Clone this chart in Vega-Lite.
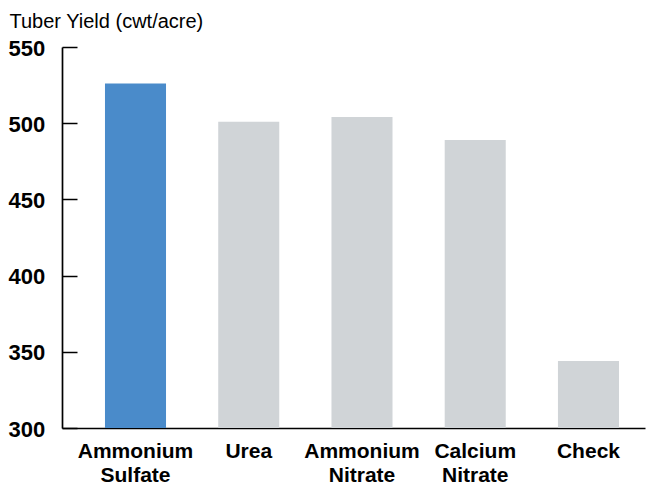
{
  "$schema": "https://vega.github.io/schema/vega-lite/v6.json",
  "autosize": {"type": "none"},
  "padding": {"left": 62, "top": 47, "right": 1, "bottom": 63},
  "width": 583,
  "height": 381,
  "background": "#ffffff",
  "config": {
    "view": {"stroke": null},
    "font": "Liberation Sans, sans-serif"
  },
  "data": {
    "values": [
      {"treatment": "Ammonium Sulfate", "yield": 526},
      {"treatment": "Urea", "yield": 501},
      {"treatment": "Ammonium Nitrate", "yield": 504},
      {"treatment": "Calcium Nitrate", "yield": 489},
      {"treatment": "Check", "yield": 344}
    ]
  },
  "mark": {"type": "bar"},
  "encoding": {
    "x": {
      "field": "treatment",
      "type": "nominal",
      "sort": null,
      "scale": {"paddingInner": 0.461, "paddingOuter": 0.3046, "align": 0.623},
      "axis": {
        "title": null,
        "labelAngle": 0,
        "ticks": false,
        "domainColor": "#000000",
        "domainWidth": 1.7,
        "labelExpr": "split(datum.label, ' ')",
        "labelFont": "Liberation Sans, sans-serif",
        "labelFontWeight": "bold",
        "labelFontSize": 21,
        "labelColor": "#000000",
        "labelBaseline": "top",
        "labelPadding": 12,
        "labelLineHeight": 24
      }
    },
    "y": {
      "field": "yield",
      "type": "quantitative",
      "scale": {"domain": [300, 550], "zero": false, "nice": false},
      "axis": {
        "values": [300, 350, 400, 450, 500, 550],
        "grid": false,
        "domainColor": "#000000",
        "domainWidth": 1.7,
        "tickColor": "#000000",
        "tickWidth": 1.5,
        "tickSize": -15,
        "labelAlign": "left",
        "labelPadding": 69,
        "labelOffset": 1,
        "labelFont": "Liberation Sans, sans-serif",
        "labelFontWeight": "bold",
        "labelFontSize": 22,
        "labelColor": "#000000",
        "title": "Tuber Yield (cwt/acre)",
        "titleAngle": 0,
        "titleAlign": "left",
        "titleBaseline": "alphabetic",
        "titleX": -53,
        "titleY": -20,
        "titleFont": "Liberation Sans, sans-serif",
        "titleFontWeight": "normal",
        "titleFontSize": 20,
        "titleColor": "#000000"
      }
    },
    "y2": {"datum": 300},
    "color": {
      "field": "treatment",
      "type": "nominal",
      "scale": {
        "domain": ["Ammonium Sulfate", "Urea", "Ammonium Nitrate", "Calcium Nitrate", "Check"],
        "range": ["#4a8bca", "#d0d4d7", "#d0d4d7", "#d0d4d7", "#d0d4d7"]
      },
      "legend": null
    }
  }
}
